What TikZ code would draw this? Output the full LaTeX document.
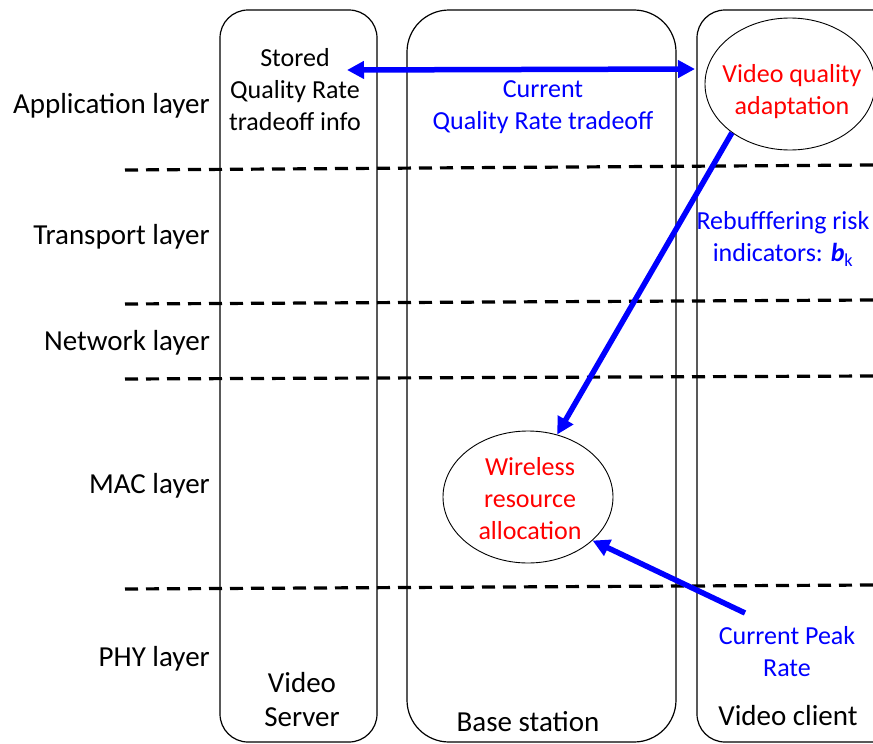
\documentclass[tikz,border=0pt]{standalone}
\usepackage{fontspec}
\setmainfont{Carlito}
\usetikzlibrary{arrows.meta,shapes.geometric}

\begin{document}
\begin{tikzpicture}[x=1pt, y=-1pt,
  layer/.style={anchor=east, inner sep=0pt, font=\fontsize{29}{34}\selectfont},
  txt/.style={align=center, inner sep=0pt, font=\fontsize{26}{32}\selectfont},
  ttl/.style={align=center, inner sep=0pt, font=\fontsize{29}{34}\selectfont},
  blu/.style={txt, text=blue},
  rd/.style={txt, text=red},
  col/.style={draw, line width=1.2pt},
  bubble/.style={draw, ellipse, line width=0.9pt, minimum width=170pt,
    minimum height=132pt, inner sep=0pt},
  arr/.style={draw=blue, line width=5.5pt, -{Triangle[length=17pt, width=17pt]}},
  sep/.style={line width=3.2pt, dash pattern=on 13pt off 8pt}]
\clip (0,0) rectangle (873,744);
% columns
\draw[col, rounded corners=28pt] (220,10) rectangle (377,742);
\draw[col, rounded corners=42pt] (407,10) rectangle (676,742);
\draw[col, rounded corners=28pt] (697,10) rectangle (920,742);
% layer boundaries
\draw[sep] (125,170) -- (873,165);
\draw[sep] (125,304) -- (873,300);
\draw[sep] (125,379) -- (873,376);
\draw[sep] (125,589) -- (873,585);
% layer names
\node[layer] (app) at (210,106) {Application layer};
\node[layer] (tra) at (210,237) {Transport layer};
\node[layer] (net) at (210,343) {Network layer};
\node[layer] (mac) at (210,486) {MAC layer};
\node[layer] (phy) at (210,659) {PHY layer};
% functions
\node[bubble] (vqa) at (790,84) {};
\node[rd] (vqat) at (792,92) {Video quality\\adaptation};
\node[bubble] (wra) at (528,497) {};
\node[rd] (wrat) at (530,499) {Wireless\\resource\\allocation};
\node[txt] (stored) at (295,90) {Stored\\Quality Rate\\tradeoff info};
\node[blu] (cur) at (543,107) {Current\\Quality Rate tradeoff};
\node[blu] (rebuf) at (783,239) {Rebufffering risk\\indicators: \textbf{\textit{b}}\textsubscript{k}};
\node[blu] (peak) at (787,652) {Current Peak\\Rate};
\node[ttl] (server) at (302,700) {Video\\Server};
\node[ttl] (bs) at (528,722) {Base station};
\node[ttl] (client) at (788,716) {Video client};
% signalling
\coordinate (qrl) at (347,70);
\coordinate (qrr) at (695,69);
\coordinate (peaks) at (745,613);
\draw[arr, {Triangle[length=17pt, width=17pt]}-{Triangle[length=17pt, width=17pt]}] (qrl) -- (qrr);
\draw[arr] (vqa.220) -- (wra.65);
\draw[arr] (peaks) -- (wra.-34);
\end{tikzpicture}
\end{document}
